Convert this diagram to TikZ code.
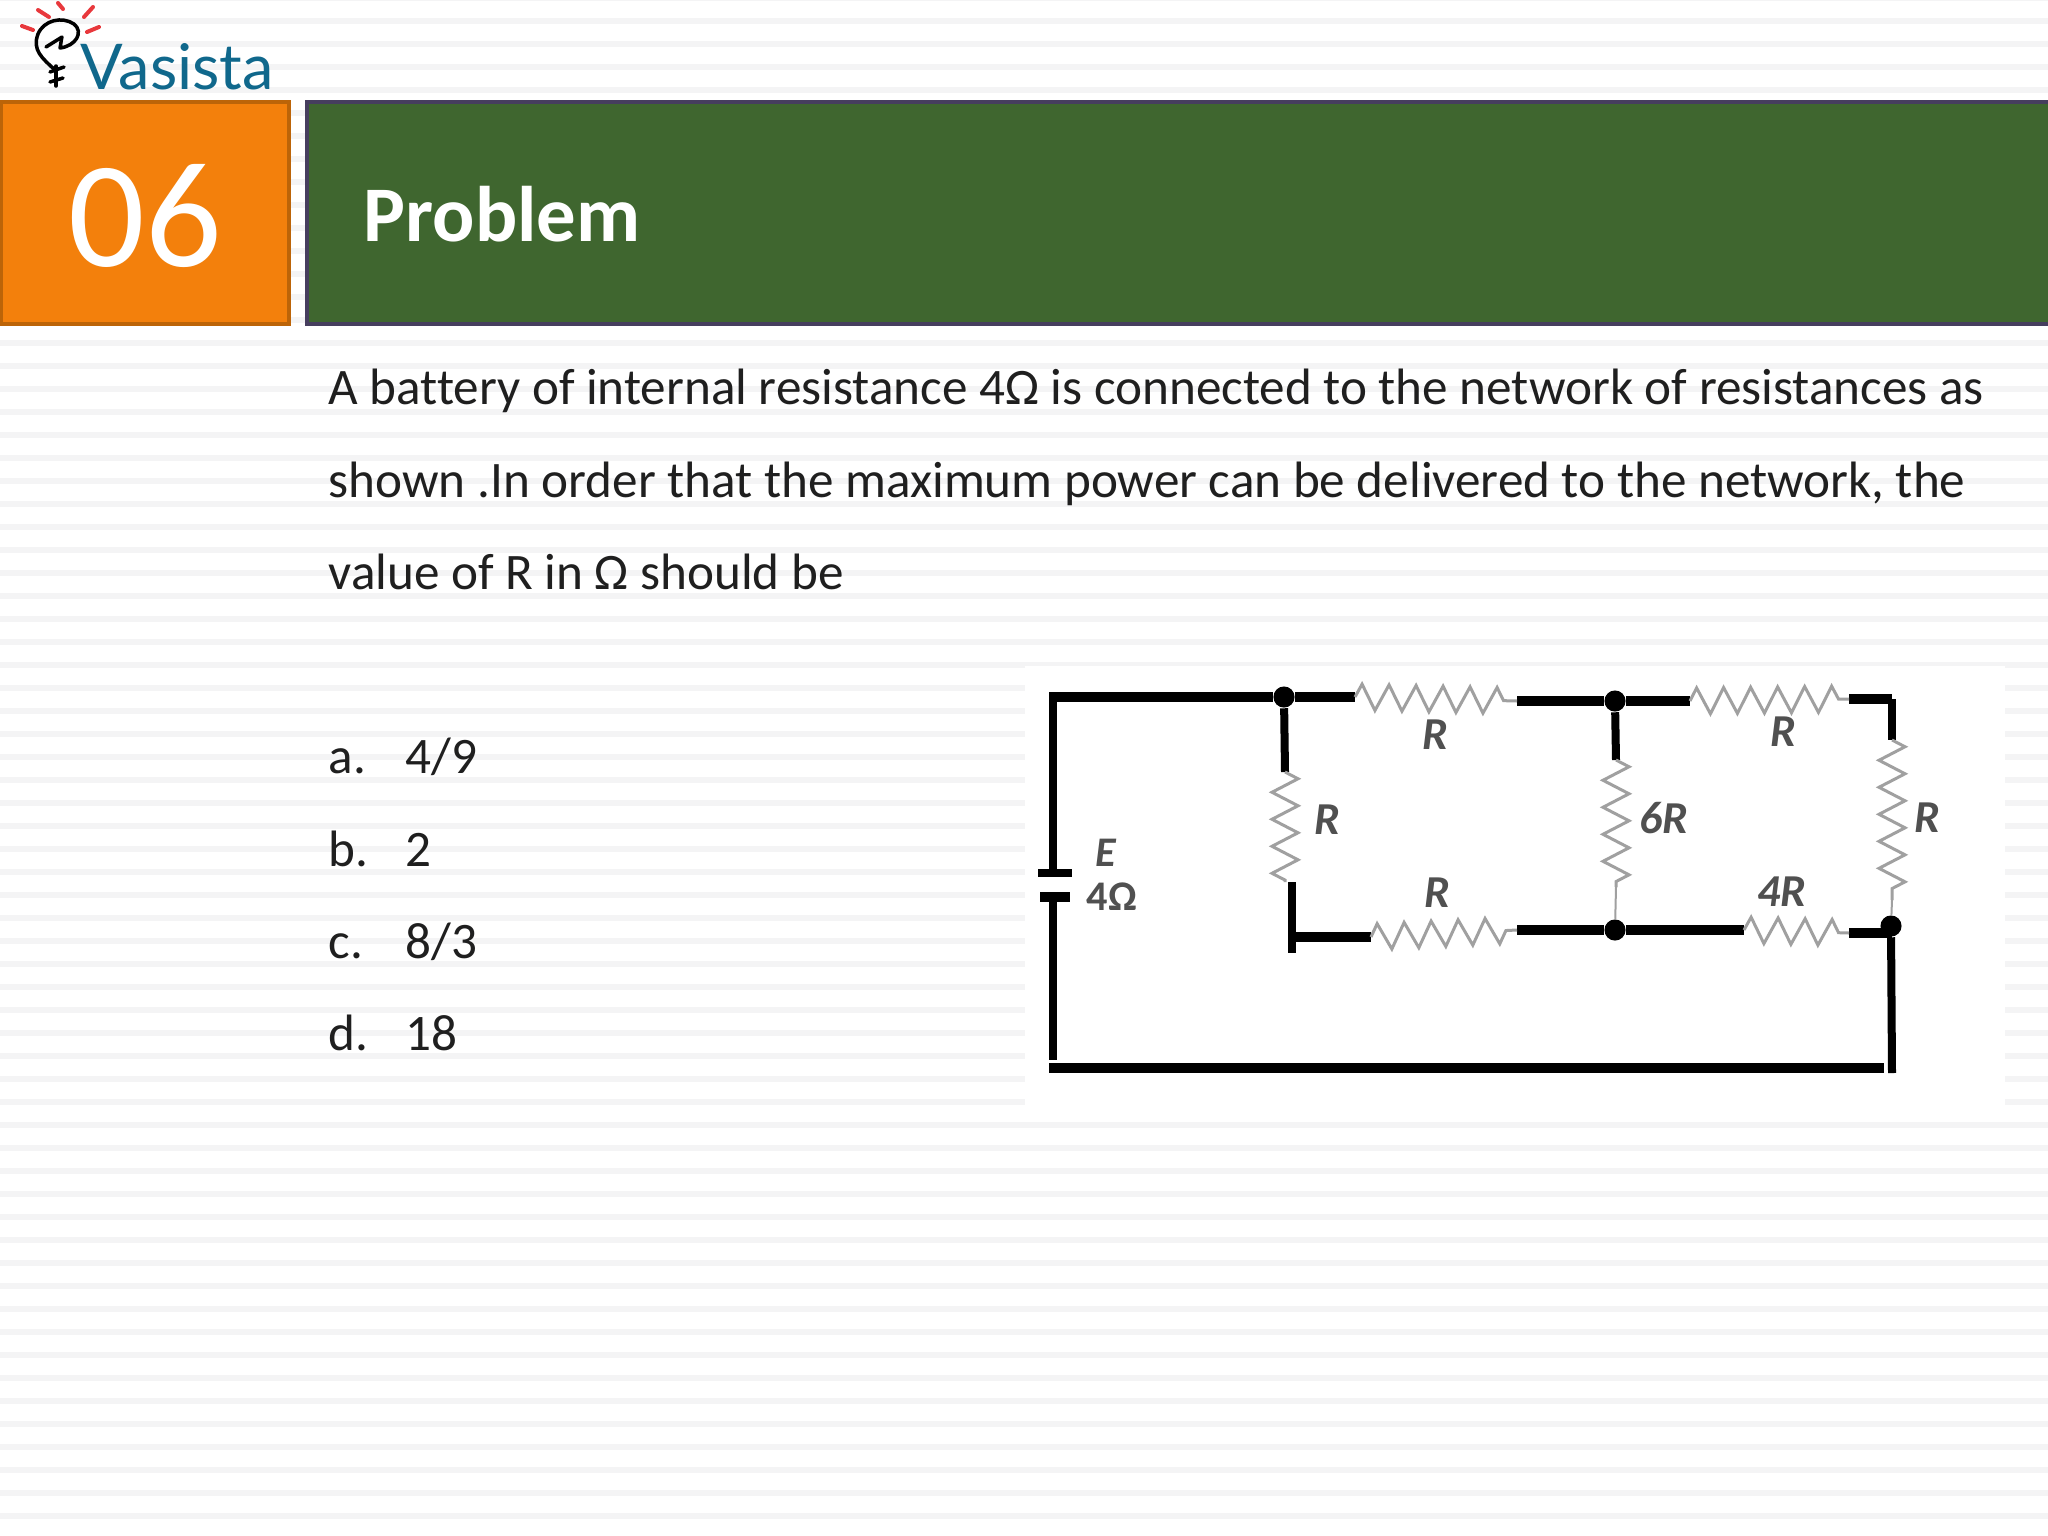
\documentclass[tikz,border=0pt]{standalone}
\usepackage{fontspec}
\setmainfont[Ligatures={NoCommon}]{Carlito}
\newfontfamily\logofont{Lato}
\usetikzlibrary{decorations.pathmorphing}
\definecolor{stripe}{HTML}{F4F4F5}
\definecolor{orangebox}{HTML}{F3800C}
\definecolor{orangeedge}{HTML}{BC6408}
\definecolor{greenbox}{HTML}{3F662F}
\definecolor{greenedge}{HTML}{463E5E}
\definecolor{bodytext}{HTML}{1F1F1F}
\definecolor{teal}{HTML}{10688C}
\definecolor{bulbred}{HTML}{E8383C}
\definecolor{resgray}{HTML}{A0A0A0}
\definecolor{labelgray}{HTML}{505050}
\tikzset{
  px/.style={line width=#1*0.2845pt},
  wirethick/.style={draw=black,px=10},
  wirethin/.style={draw=black,px=8},
  resistor/.style={draw=resgray,px=3,decorate,decoration={zigzag,segment length=27*0.2845pt,amplitude=13*0.2845pt}},
  junction/.style={circle,fill=black,inner sep=0pt,minimum size=6pt},
  bodyline/.style={anchor=base west,inner sep=0pt,text=bodytext,font=\fontsize{14.55pt}{16pt}\selectfont},
  circlabel/.style={inner sep=0pt,text=labelgray,font=\fontsize{13pt}{14pt}\selectfont\itshape\bfseries},
  bulbline/.style={draw=black,px=3.5,line cap=round,line join=round},
  raydash/.style={draw=bulbred,px=4,line cap=round},
}
\begin{document}
\begin{tikzpicture}[x=0.01cm,y=-0.01cm]
\useasboundingbox (0,0) rectangle (2048,1536);
\fill[white] (0,0) rectangle (2048,1536);
% striped background
\foreach \k in {0,...,67} {
  \fill[stripe] (0,{-2+23*\k-3}) rectangle (2048,{-2+23*\k+3});
}
% white panel behind the circuit
\fill[white] (1025,666) rectangle (2005,1110);

% logo
\draw[bulbline] (55,70) .. controls (42,58) and (32,50) .. (38,34) .. controls (44,20) and (62,16) .. (74,24) .. controls (84,32) and (76,46) .. (60,48) .. controls (61,44) and (61,40) .. (62,37) -- (46,47);
\draw[bulbline] (56,66) -- (56,86);
\draw[bulbline] (50,72) -- (64,67);
\draw[bulbline] (50,82) -- (63,78);
\draw[raydash] (22,26) -- (33,30);
\draw[raydash] (38,10) -- (49,17);
\draw[raydash] (58,3) -- (63,9);
\draw[raydash] (84,17) -- (93,7);
\draw[raydash] (87,32) -- (99,27);
\node[anchor=base west,inner sep=0pt,text=teal] (logotext) at (80,89) {\resizebox{1.93cm}{!}{\logofont Vasista}};

% header
\node[anchor=north west,inner sep=0pt,outer sep=0pt,minimum width=2.88cm,minimum height=2.22cm,draw=orangeedge,px=4,fill=orangebox] (numbox) at (1,102) {};
\node[anchor=north west,inner sep=0pt,outer sep=0pt,minimum width=17.48cm,minimum height=2.22cm,draw=greenedge,px=4,fill=greenbox] (titlebox) at (307,102) {};
\node[inner sep=0pt,text=white,font=\fontsize{43pt}{44pt}\selectfont,anchor=base] (num) at (145,266) {06};
\node[anchor=base west,inner sep=0pt,text=white,font=\fontsize{22.4pt}{24pt}\selectfont\bfseries] (title) at (363,241) {Problem};

% body text
\node[bodyline] (l1) at (328,404) {A battery of internal resistance 4Ω is connected to the network of resistances as};
\node[bodyline] (l2) at (328,497) {shown .In order that the maximum power can be delivered to the network, the};
\node[bodyline] (l3) at (328,589) {value of R in Ω should be};
\node[bodyline] (oa) at (328,773) {a.};
\node[bodyline] (va) at (405,773) {4/9};
\node[bodyline] (ob) at (328,866) {b.};
\node[bodyline] (vb) at (405,866) {2};
\node[bodyline] (oc) at (328,958) {c.};
\node[bodyline] (vc) at (405,958) {8/3};
\node[bodyline] (od) at (328,1050) {d.};
\node[bodyline] (vd) at (405,1050) {18};

% circuit points
\coordinate (tl) at (1053,697);
\coordinate (bl) at (1049,1068);
\coordinate (br) at (1884,1068);
\coordinate (tr) at (1892,699);
\coordinate (bat1) at (1053,873);
\coordinate (bat2) at (1053,897);
\coordinate (bat1l) at (1038,873);
\coordinate (bat1r) at (1072,873);
\coordinate (bat2l) at (1040,897);
\coordinate (bat2r) at (1070,897);
\node[junction] (j1) at (1284,697) {};
\node[junction] (j2) at (1615,701) {};
\node[junction] (j3) at (1615,930) {};
\node[junction] (j4) at (1891,926) {};
\coordinate (r1a) at (1355,697);
\coordinate (r1b) at (1517,701);
\coordinate (r2a) at (1690,701);
\coordinate (r2b) at (1849,699);
\coordinate (r3a) at (1892,740);
\coordinate (r3b) at (1892,900);
\coordinate (r4a) at (1285,772);
\coordinate (r4b) at (1285,882);
\coordinate (r5a) at (1616,760);
\coordinate (r5b) at (1616,887);
\coordinate (r6a) at (1371,937);
\coordinate (r6b) at (1517,930);
\coordinate (r7a) at (1744,930);
\coordinate (r7b) at (1849,933);
\coordinate (j4s) at (1892,933);
\coordinate (cbl) at (1292,937);
\coordinate (cblb) at (1292,953);
\coordinate (cblt) at (1292,882);
\coordinate (rdown) at (1892,1073);
\coordinate (lstop) at (1053,1060);

% wires
\draw[wirethick] (tl) -- (j1) -- (r1a);
\draw[wirethick] (r1b) -- (j2) -- (r2a);
\draw[wirethick] (r2b) -- (tr);
\draw[wirethin] (tr) -- (r3a);
\draw[wirethin] ([yshift=0.05cm]tl) -- (bat1);
\draw[wirethin] (bat2) -- (lstop);
\draw[wirethick] (bl) -- (br);
\draw[wirethin] (j4) -- (rdown);
\draw[wirethin] (j1) -- (r4a);
\draw[wirethin] (j2) -- (r5a);
\draw[wirethin] (cblt) -- (cblb);
\draw[wirethick] (cbl) -- (r6a);
\draw[wirethick] (r6b) -- (j3) -- (r7a);
\draw[wirethick] (r7b) -- (j4s);
% battery plates
\draw[wirethin] (bat1l) -- (bat1r);
\draw[wirethick] (bat2l) -- (bat2r);
% resistors
\draw[resistor] (r1a) -- (r1b);
\draw[resistor] (r2a) -- (r2b);
\draw[resistor] (r3a) -- (r3b);
\draw[resgray,px=2] (r3b) -- (j4);
\draw[resistor] (r4a) -- (r4b);
\draw[resistor] (r5a) -- (r5b);
\draw[resgray,px=2] (r5b) -- (j3);
\draw[resistor] (r6a) -- (r6b);
\draw[resistor] (r7a) -- (r7b);
% circuit labels
\node[circlabel] (lr1) at (1435,735) {R};
\node[circlabel] (lr2) at (1783,732) {R};
\node[circlabel] (lr3) at (1927,818) {R};
\node[circlabel] (lr4) at (1327,820) {R};
\node[circlabel] (lr5) at (1664,818) {6R};
\node[circlabel] (lr6) at (1437,893) {R};
\node[circlabel] (lr7) at (1782,892) {4R};
\node[circlabel,font=\fontsize{12pt}{13pt}\selectfont\itshape\bfseries] (le) at (1106,853) {E};
\node[inner sep=0pt,text=labelgray,font=\fontsize{12pt}{13pt}\selectfont\bfseries] (lo) at (1112,897) {4Ω};
\end{tikzpicture}
\end{document}
